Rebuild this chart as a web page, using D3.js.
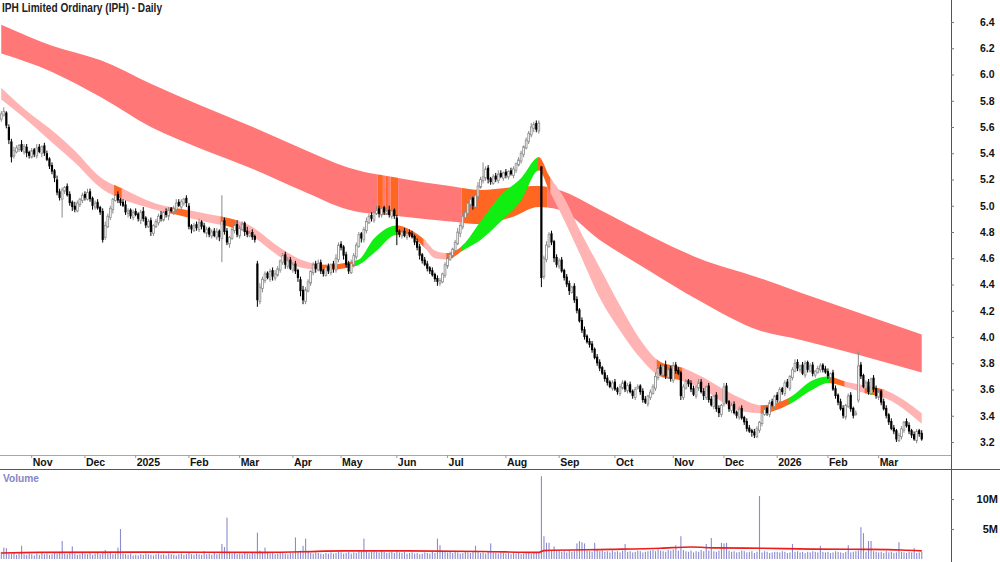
<!DOCTYPE html>
<html>
<head>
<meta charset="utf-8">
<script src="https://cdn.jsdelivr.net/npm/d3@7"></script>
<style>
  body { margin: 0; background: #fff; }
  svg { display: block; font-family: "Liberation Sans", Arial, sans-serif; }
  .tick text { font-weight: bold; fill: #111; }
</style>
</head>
<body>
<script>
// ---- data (prices in cents, volume in 0.1M) ----
const title = "IPH Limited Ordinary (IPH) - Daily";
const firstDay = new Date(2024, 9, 16), lastDay = new Date(2026, 2, 25);
const holidays = ["2024-12-25", "2024-12-26", "2025-01-01", "2025-01-27", "2025-04-18", "2025-04-21",
  "2025-04-25", "2025-06-09", "2025-12-25", "2025-12-26", "2026-01-01", "2026-01-26"];

const closes = [
  570,572,561,550,537,542,544,546,542,545,540,538,
  542,539,544,541,545,540,535,530,526,521,510,506,512,514,508,502,499,497,502,505,508,
  506,510,505,500,502,498,495,474,485,492,498,505,508,504,502,500,495,496,492,495,
  493,490,495,490,485,488,480,485,488,492,490,495,493,497,496,498,502,500,503,505,502,
  484,482,485,483,487,484,480,482,478,480,477,480,476,488,480,472,476,482,485,478,
  483,486,480,478,479,476,474,428,438,444,448,445,450,446,448,452,458,462,455,458,452,
  455,450,445,435,428,436,442,450,455,452,456,450,448,453,450,455,452,460,470,
  468,462,455,450,456,462,470,478,475,482,488,492,490,495,497,494,498,495,496,493,496,492,
  480,478,480,477,479,478,476,472,468,462,458,455,452,450,447,444,442,443,448,455,
  460,463,467,472,480,485,492,495,502,505,500,508,515,520,522,528,520,518,522,520,524,522,525,
  523,526,524,528,532,535,540,545,550,555,560,562,558,563,445,460,470,478,472,460,455,
  458,450,445,440,435,438,428,420,412,405,400,396,394,390,384,380,376,372,368,365,362,365,
  360,358,362,365,360,363,358,355,360,362,358,352,350,355,358,362,370,376,372,378,370,375,368,
  378,374,372,355,362,366,364,360,356,362,365,358,355,362,352,348,355,345,342,348,
  362,350,345,348,342,340,345,338,335,330,328,327,325,330,335,342,345,342,350,348,355,
  352,360,358,365,362,370,375,380,376,378,372,380,375,378,372,374,376,378,375,373,
  370,372,360,355,350,345,340,348,355,345,340,342,378,370,362,365,358,368,360,355,
  358,350,345,340,335,330,328,322,325,330,335,332,328,325,322,328,326,322
];
const opens = [
  566,569,571,560,549,538,541,543,547,541,545,541,
  537,543,538,545,540,546,540,536,531,527,520,511,505,511,515,509,503,500,496,501,504,
  509,505,511,506,499,503,499,496,476,484,491,497,504,509,505,503,501,494,497,491,
  496,494,489,496,491,484,489,479,484,487,493,489,496,492,498,495,497,503,499,502,506,
  500,485,481,486,482,488,485,479,483,477,481,476,481,475,489,481,471,475,481,486,
  477,482,487,481,477,480,477,456,427,437,443,449,444,451,445,447,451,457,463,454,459,
  451,456,451,444,436,427,435,441,449,456,451,457,451,447,454,449,456,451,459,
  471,469,463,456,449,455,461,469,479,474,481,487,493,489,494,498,493,499,494,497,492,497,
  491,481,477,481,476,480,479,477,473,469,463,459,456,453,451,448,445,441,442,447,
  454,459,462,466,471,479,484,491,494,501,506,499,507,514,519,521,529,521,517,523,519,525,521,
  526,522,527,523,527,531,534,539,544,549,554,559,563,557,530,446,459,469,479,473,461,
  454,459,451,446,441,434,439,429,421,413,406,401,397,395,391,385,381,377,373,369,366,361,
  366,361,357,361,366,359,364,359,354,361,363,359,353,349,354,357,361,369,377,371,379,369,376,
  367,379,375,373,354,361,367,365,361,355,361,366,359,354,363,353,347,356,346,341,
  349,363,351,344,349,343,339,346,339,336,331,329,328,324,329,334,341,346,341,351,347,
  356,351,361,357,366,361,369,374,381,375,379,371,381,374,379,371,373,375,379,376,
  374,369,373,361,356,351,346,339,347,356,346,341,352,379,371,361,366,357,369,361,
  354,359,351,346,341,336,331,329,321,324,329,336,333,329,326,321,329,327
];
// wick lengths above / below the body, cents
const upWick = [
  2,3,1,2,2,3,2,1,3,2,2,1,
  2,1,3,2,1,2,2,1,2,1,3,2,2,1,2,2,1,3,2,1,2,
  2,3,2,1,2,2,1,2,3,2,2,1,2,2,1,2,3,2,1,2,
  2,1,2,3,1,2,2,1,2,2,3,1,2,2,1,2,3,2,2,1,2,
  2,1,2,2,3,1,2,2,1,2,2,3,1,20,2,2,1,2,2,3,
  2,2,1,3,2,2,1,2,3,2,2,1,2,2,3,2,1,2,2,3,2,
  2,2,1,2,3,2,2,1,2,2,3,2,1,2,2,1,2,3,2,
  2,1,2,2,3,2,2,2,1,2,3,2,2,1,3,2,2,1,2,3,2,1,
  2,1,2,2,1,2,2,1,2,2,1,2,2,1,2,1,2,2,1,2,
  2,2,1,2,3,2,2,3,2,2,1,2,3,2,11,2,2,1,2,2,3,2,1,
  2,1,2,2,1,2,2,1,2,2,3,2,2,2,0,2,3,2,2,1,2,
  2,2,1,2,2,1,2,2,1,2,2,1,2,2,1,2,2,1,2,2,1,2,
  2,1,2,2,1,2,2,1,2,2,1,2,2,1,2,2,3,2,2,1,3,2,2,
  3,2,2,1,2,2,1,2,2,1,3,2,2,1,2,2,1,2,2,1,
  3,2,1,2,2,1,2,2,1,2,2,1,2,2,1,2,2,1,2,2,1,
  2,2,1,2,2,1,2,3,2,1,2,2,1,2,2,1,2,2,1,2,
  2,1,2,2,1,2,2,1,2,2,1,2,11,2,1,2,2,1,2,2,
  2,1,2,2,1,2,2,1,2,2,1,2,2,1,2,2,1,2
];
const downWick = [
  2,1,2,3,4,2,1,2,1,2,3,2,
  1,2,2,1,3,2,1,2,2,3,2,2,14,2,1,2,3,2,1,2,2,
  2,1,2,3,2,1,2,2,2,1,2,3,1,2,2,1,2,3,2,2,
  1,2,3,2,2,1,3,2,1,2,2,1,2,3,1,2,2,1,2,2,3,
  2,3,1,2,2,2,1,3,2,2,1,2,3,18,2,2,3,1,2,2,
  2,1,3,2,1,2,2,5,2,3,2,1,2,3,2,1,2,2,3,2,1,
  2,2,3,4,3,2,1,2,2,3,1,2,2,1,2,2,3,2,2,
  2,3,2,2,1,2,2,1,3,2,2,1,2,2,1,3,2,2,1,2,2,2,
  10,2,2,1,2,2,1,2,2,3,2,1,2,2,1,2,3,2,1,2,
  2,1,2,2,1,3,2,2,1,2,3,2,2,1,2,2,3,2,1,2,2,1,2,
  2,2,1,2,2,1,2,2,1,2,2,3,2,2,7,2,2,1,2,3,2,
  2,1,2,2,3,1,2,2,1,2,2,1,2,2,1,2,2,1,2,2,1,2,
  1,2,2,1,2,2,1,2,2,1,2,2,1,2,2,1,2,2,1,2,2,1,2,
  2,2,1,3,2,1,2,2,1,2,2,1,3,2,2,1,2,2,3,2,
  2,1,2,2,1,2,2,1,2,2,1,3,2,1,2,2,1,2,2,1,2,
  2,1,2,2,1,2,2,1,2,2,1,2,2,1,2,2,1,2,2,1,
  2,2,1,2,2,1,2,2,1,2,2,1,2,2,1,2,2,1,2,2,
  2,2,1,2,2,1,2,2,1,2,2,1,2,2,1,2,2,1
];
const volume = [
  12,19,18,9,8,10,7,9,22,8,7,9,
  8,6,9,7,10,8,9,7,8,11,9,10,30,9,8,12,21,9,7,8,10,
  9,8,10,7,9,11,8,12,15,9,10,8,9,19,50,9,8,7,9,6,
  7,6,8,7,9,8,7,6,8,9,7,8,6,9,8,7,6,8,9,7,8,
  10,8,7,9,8,7,13,8,9,7,10,8,9,25,20,69,12,9,10,8,
  9,8,10,9,8,10,9,44,14,10,19,11,9,10,8,9,10,11,9,8,10,
  10,36,12,14,22,34,12,10,9,11,10,9,8,10,9,11,9,10,12,
  11,9,10,12,9,11,10,13,12,34,13,11,12,14,12,11,13,12,10,11,12,10,
  14,11,10,12,9,10,11,9,10,8,9,11,10,9,12,10,34,23,14,12,
  11,13,10,12,11,9,10,12,11,10,13,22,12,10,11,9,12,26,11,10,9,11,10,
  9,10,8,11,9,10,8,9,10,11,9,10,12,10,138,38,27,27,14,21,15,
  14,12,13,11,14,12,13,26,30,28,26,14,13,12,27,15,13,14,12,13,11,14,
  12,13,11,14,25,12,13,11,12,14,13,11,12,13,14,15,13,16,14,13,12,15,14,
  16,23,14,38,15,13,12,14,11,13,12,15,13,25,14,35,13,12,14,27,
  26,27,14,12,13,11,12,14,13,11,12,13,10,12,105,11,13,12,10,11,12,
  12,11,13,12,10,11,25,12,13,11,12,10,12,11,13,12,11,22,12,11,
  12,10,11,13,12,11,10,12,23,11,12,13,14,53,43,12,30,30,13,12,
  11,12,10,13,11,12,10,11,28,12,11,10,12,11,18,10,11,12
];

// average volume line (M), read at trading-day indices
const volAvgAt  = [0, 15, 60, 100, 118, 135, 160, 190, 212, 214, 240, 260, 272, 282, 300, 320, 342, 355, 363];
const volAvgVal = [1.0, 1.1, 1.15, 1.1, 1.2, 1.35, 1.35, 1.25, 1.1, 1.4, 1.6, 1.8, 2.0, 1.85, 1.8, 1.65, 1.6, 1.5, 1.35];

// long-term moving average band (edges), at trading-day indices
const longAt  = [0, 20, 39, 59, 78, 98, 118, 137, 157, 177, 189, 201, 212, 220, 236, 256, 275, 299, 315, 339, 363];
const longTop = [6.38, 6.22, 6.11, 5.93, 5.77, 5.61, 5.44, 5.29, 5.21, 5.15, 5.12, 5.14, 5.15, 5.12, 4.97, 4.77, 4.60, 4.45, 4.34, 4.18, 4.02];
const longBot = [6.16, 6.02, 5.83, 5.60, 5.44, 5.29, 5.12, 4.97, 4.92, 4.88, 4.86, 4.91, 4.99, 4.97, 4.74, 4.50, 4.28, 4.05, 3.98, 3.86, 3.73];

// short-term moving average band
const shortAt  = [0, 9, 19, 29, 39, 49, 59, 78, 98, 110, 118, 128, 137, 141, 147, 156, 161, 167, 171, 176, 182, 189,
  197, 205, 212, 216, 222, 228, 236, 244, 252, 260, 268, 275, 291, 300, 311, 320, 326, 333, 341, 348, 363];
const shortTop = [5.90, 5.74, 5.59, 5.42, 5.22, 5.12, 5.03, 4.95, 4.85, 4.68, 4.59, 4.55, 4.57, 4.59, 4.75, 4.85, 4.82,
  4.74, 4.66, 4.64, 4.70, 4.88, 5.08, 5.21, 5.37, 5.23, 5.06, 4.82, 4.53, 4.24, 3.98, 3.81, 3.77, 3.71, 3.54, 3.48,
  3.54, 3.67, 3.70, 3.66, 3.63, 3.60, 3.42];
const shortBot = [5.81, 5.67, 5.50, 5.33, 5.14, 5.04, 4.98, 4.89, 4.78, 4.61, 4.53, 4.51, 4.53, 4.55, 4.64, 4.78, 4.77,
  4.68, 4.60, 4.59, 4.66, 4.74, 4.88, 5.04, 5.27, 5.12, 4.89, 4.64, 4.30, 4.05, 3.84, 3.70, 3.67, 3.62, 3.44, 3.42,
  3.49, 3.60, 3.65, 3.62, 3.57, 3.54, 3.34];

// colour zones [from index, to index, state]
const shortZones = [[0,45,"down"],[45,48,"mixed"],[48,67,"down"],[67,74,"mixed"],[74,87,"down"],[87,93,"mixed"],
  [93,125,"down"],[125,140,"mixed"],[140,157,"up"],[157,167,"mixed"],[167,176,"down"],[176,182,"mixed"],
  [182,212,"up"],[212,217,"mixed"],[217,259,"down"],[259,269,"mixed"],[269,300,"down"],[300,311,"mixed"],
  [311,327,"up"],[327,333,"mixed"],[333,341,"down"],[341,343,"mixed"],[343,344,"up"],[344,348,"mixed"],[348,363,"down"]];
const longZones = [[0,148,"down"],[149,150,"mixed"],[151,151,"down"],[152,152,"mixed"],[153,153,"down"],
  [154,156,"mixed"],[157,181,"down"],[182,215,"mixed"],[216,363,"down"]];

const priceTicks = [3.2, 3.4, 3.6, 3.8, 4.0, 4.2, 4.4, 4.6, 4.8, 5.0, 5.2, 5.4, 5.6, 5.8, 6.0, 6.2, 6.4];
const volTicks = [5, 10];

// ---- layout ----
const W = 1000, H = 562, axisX = 951, plotW = 923;
const priceBottom = 455, volTop = 470, volBase = 559;

const fmtDay = d3.timeFormat("%Y-%m-%d");
const dates = d3.timeDay.range(firstDay, d3.timeDay.offset(lastDay, 1))
  .filter(d => d.getDay() % 6 !== 0 && !holidays.includes(fmtDay(d)));
const n = Math.min(dates.length, closes.length);

const candles = d3.range(n).map(i => {
  const o = opens[i] / 100, c = closes[i] / 100;
  return { i, o, c, h: Math.max(o, c) + upWick[i] / 100, l: Math.min(o, c) - downWick[i] / 100, v: volume[i] / 10 };
});

const x = d3.scaleBand().domain(d3.range(n)).range([0, plotW]);
const step = x.step();
const xc = d3.scaleLinear().domain([0, n - 1]).range([x(0) + x.bandwidth() / 2, x(n - 1) + x.bandwidth() / 2]);
const y = d3.scaleLinear().domain([3.2, 6.4]).range([442, 22]);
const vy = d3.scaleLinear().domain([0, 10]).range([volBase, 499]);

const colours = { band: "#ff7777", down: "#ffb3b3", up: "#11ee11", mixed: "#ff6622" };

const svg = d3.select("body").append("svg").attr("width", W).attr("height", H);
const defs = svg.append("defs");
defs.append("clipPath").attr("id", "price-clip")
  .append("rect").attr("x", 0).attr("y", 0).attr("width", axisX).attr("height", priceBottom);

const price = svg.append("g").attr("clip-path", "url(#price-clip)");

function drawBand(at, top, bot, zones, baseColour, name) {
  const pts = at.map((k, j) => ({ k, t: top[j], b: bot[j] }));
  const area = d3.area()
    .x(d => xc(d.k)).y0(d => y(d.b)).y1(d => y(d.t))
    .curve(d3.curveMonotoneX);
  zones.forEach((z, j) => {
    const id = `${name}-zone-${j}`;
    defs.append("clipPath").attr("id", id)
      .append("rect")
        .attr("x", xc(z[0]) - step / 2)
        .attr("y", 0)
        .attr("width", xc(z[1]) - xc(z[0]) + step)
        .attr("height", priceBottom);
    price.append("path")
      .datum(pts)
      .attr("clip-path", `url(#${id})`)
      .attr("d", area)
      .attr("fill", z[2] === "down" ? baseColour : colours[z[2]]);
  });
}

drawBand(longAt, longTop, longBot, longZones, colours.band, "long");
drawBand(shortAt, shortTop, shortBot, shortZones, colours.down, "short");

// candles
const cg = price.append("g");
cg.selectAll("line")
  .data(candles)
  .join("line")
    .attr("x1", d => xc(d.i)).attr("x2", d => xc(d.i))
    .attr("y1", d => y(d.h)).attr("y2", d => y(d.l))
    .attr("stroke", d => d.c >= d.o ? "#8a8a8a" : "#000")
    .attr("stroke-width", 1);
cg.selectAll("rect")
  .data(candles)
  .join("rect")
    .attr("x", d => d.c >= d.o ? xc(d.i) - 0.9 : xc(d.i) - 1.1)
    .attr("width", d => d.c >= d.o ? 1.8 : 2.2)
    .attr("y", d => y(Math.max(d.o, d.c)))
    .attr("height", d => Math.max(0.8, Math.abs(y(d.o) - y(d.c))))
    .attr("fill", d => d.c >= d.o ? "#fff" : "#000")
    .attr("stroke", d => d.c >= d.o ? "#8a8a8a" : "none")
    .attr("stroke-width", 0.8);

// volume
svg.append("g").selectAll("rect")
  .data(candles)
  .join("rect")
    .attr("x", d => xc(d.i) - 0.5)
    .attr("width", 1.1)
    .attr("y", d => vy(d.v))
    .attr("height", d => volBase - vy(d.v))
    .attr("fill", "#8b8bd0");

svg.append("path")
  .datum(volAvgAt.map((k, j) => [k, volAvgVal[j]]))
  .attr("d", d3.line().x(d => xc(d[0])).y(d => vy(d[1])).curve(d3.curveMonotoneX))
  .attr("fill", "none")
  .attr("stroke", "#ee1c1c")
  .attr("stroke-width", 1.6);

// frame lines
svg.append("line").attr("x1", 0).attr("x2", axisX).attr("y1", priceBottom + 0.5).attr("y2", priceBottom + 0.5)
  .attr("stroke", "#a8a8a8");
svg.append("line").attr("x1", 0).attr("x2", W).attr("y1", volTop - 0.5).attr("y2", volTop - 0.5)
  .attr("stroke", "#555");
svg.append("line").attr("x1", axisX + 0.5).attr("x2", axisX + 0.5).attr("y1", 0).attr("y2", H)
  .attr("stroke", "#555");

// price axis
svg.append("g")
  .attr("transform", `translate(${axisX},0)`)
  .call(d3.axisRight(y).tickValues(priceTicks).tickSize(3).tickPadding(26).tickFormat(d3.format(".1f")))
  .call(g => g.select(".domain").remove())
  .call(g => g.selectAll(".tick line").attr("stroke", "#777"))
  .call(g => g.selectAll(".tick text").attr("font-size", 10.5));

// volume axis
svg.append("g")
  .attr("transform", `translate(${axisX},0)`)
  .call(d3.axisRight(vy).tickValues(volTicks).tickSize(3).tickFormat(d => d + "M"))
  .call(g => g.select(".domain").remove())
  .call(g => g.selectAll(".tick line").attr("stroke", "#777"))
  .call(g => g.selectAll(".tick text").attr("font-size", 11).attr("text-anchor", "end").attr("x", 47));

// month axis
const monthStarts = d3.range(1, n).filter(i => dates[i].getMonth() !== dates[i - 1].getMonth());
const fmtMonth = d => d.getMonth() === 0 ? d3.timeFormat("%Y")(d) : d3.timeFormat("%b")(d);
svg.append("g")
  .attr("transform", `translate(0,${priceBottom})`)
  .call(d3.axisBottom(x).tickValues(monthStarts).tickSize(3).tickPadding(1).tickFormat(i => fmtMonth(dates[i])))
  .call(g => g.select(".domain").remove())
  .call(g => g.selectAll(".tick line").attr("stroke", "#999"))
  .call(g => g.selectAll(".tick text").attr("font-size", 10.5).attr("text-anchor", "start").attr("x", 1));

// labels
svg.append("text").attr("x", 2).attr("y", 12)
  .attr("font-size", 12).attr("font-weight", "bold").attr("fill", "#222")
  .attr("textLength", 160).attr("lengthAdjust", "spacingAndGlyphs")
  .text(title);
svg.append("text").attr("x", 3).attr("y", 482)
  .attr("font-size", 11).attr("font-weight", "bold").attr("fill", "#8585c5")
  .attr("textLength", 36).attr("lengthAdjust", "spacingAndGlyphs")
  .text("Volume");
</script>
</body>
</html>
